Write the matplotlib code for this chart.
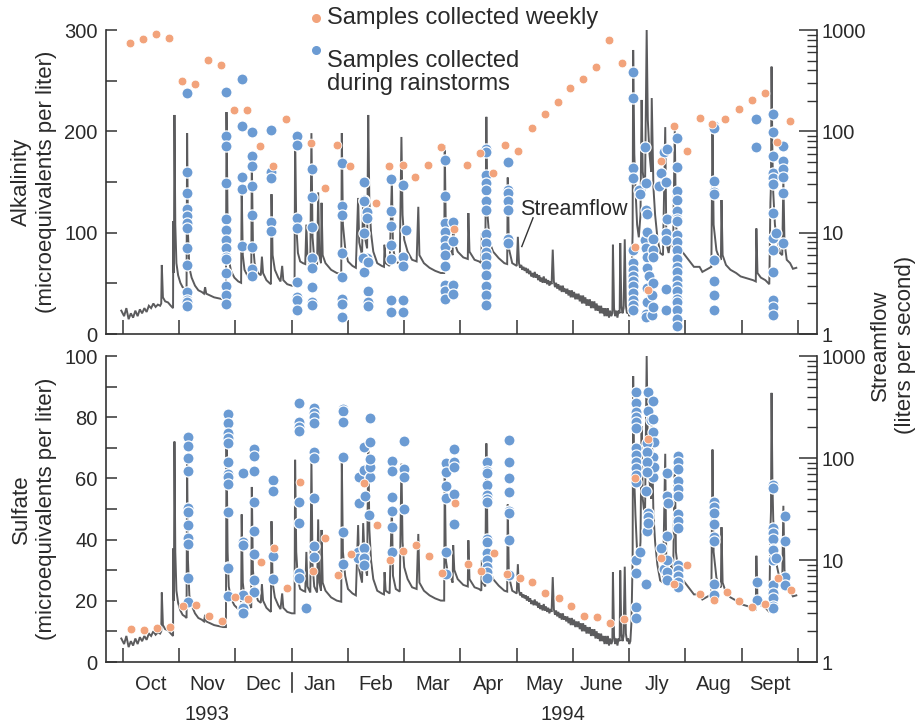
import matplotlib
matplotlib.use("Agg")
import matplotlib.pyplot as plt
from matplotlib import font_manager
from matplotlib.ticker import LogLocator, FuncFormatter, FixedLocator, NullFormatter
import matplotlib.transforms as mtrans

# ---------------- data ----------------
# x positions are in months since 1 Oct 1993 (0 = Oct 1, 12 = Oct 1 1994)
month_labels = ["Oct", "Nov", "Dec", "Jan", "Feb", "Mar", "Apr", "May", "June", "Jly", "Aug", "Sept"]
year_labels = ["1993", "1994"]
year_label_pos = [1.49, 7.83]

flow_month = [-0.03, 0.02, 0.06, 0.10, 0.14, 0.18, 0.22, 0.26, 0.30, 0.34, 0.38, 0.42, 0.46, 0.50, 0.54,
              0.58, 0.62, 0.66, 0.68, 0.69, 0.71, 0.75, 0.80, 0.85, 0.89, 0.895, 0.905, 0.915, 0.93, 0.95,
              0.98, 1.02, 1.06, 1.10, 1.13, 1.14, 1.155, 1.18, 1.22, 1.28, 1.34, 1.40, 1.44, 1.46, 1.48,
              1.55, 1.62, 1.70, 1.78, 1.83, 1.84, 1.86, 1.88, 1.92, 1.98, 2.05, 2.10, 2.11, 2.13, 2.16,
              2.22, 2.28, 2.29, 2.31, 2.34, 2.40, 2.45, 2.47, 2.49, 2.55, 2.60, 2.63, 2.64, 2.66, 2.70,
              2.76, 2.80, 2.83, 2.85, 2.92, 3.00, 3.05, 3.06, 3.08, 3.11, 3.15, 3.20, 3.24, 3.26, 3.28,
              3.33, 3.35, 3.37, 3.40, 3.45, 3.47, 3.49, 3.52, 3.53, 3.55, 3.60, 3.70, 3.80, 3.88, 3.89,
              3.91, 3.95, 4.00, 4.08, 4.14, 4.18, 4.20, 4.25, 4.27, 4.30, 4.34, 4.36, 4.38, 4.41, 4.45,
              4.52, 4.60, 4.64, 4.65, 4.67, 4.74, 4.78, 4.80, 4.85, 4.92, 4.95, 4.97, 5.00, 5.06, 5.14,
              5.22, 5.25, 5.27, 5.35, 5.45, 5.55, 5.65, 5.71, 5.72, 5.74, 5.78, 5.84, 5.86, 5.87, 5.89,
              5.95, 6.05, 6.13, 6.14, 6.16, 6.25, 6.33, 6.37, 6.38, 6.40, 6.44, 6.46, 6.48, 6.52, 6.58,
              6.68, 6.78, 6.83, 6.84, 6.86, 6.92, 7.00, 7.02,
              7.04, 7.06, 7.08, 7.10, 7.12, 7.14, 7.16, 7.18, 7.20, 7.22, 7.24, 7.26, 7.28, 7.30, 7.32,
              7.34, 7.36, 7.38, 7.40, 7.42, 7.44, 7.46, 7.48, 7.50, 7.52, 7.54, 7.56, 7.58, 7.60, 7.62,
              7.64, 7.66, 7.68, 7.70, 7.72, 7.74, 7.76, 7.78, 7.80, 7.82, 7.84, 7.86, 7.88, 7.90, 7.92,
              7.94, 7.96, 7.98, 8.00, 8.02, 8.04, 8.06, 8.08, 8.10, 8.12, 8.14, 8.16, 8.18, 8.20, 8.22,
              8.24, 8.26, 8.28, 8.30, 8.32, 8.34, 8.36, 8.38, 8.40, 8.42, 8.44, 8.46, 8.48, 8.50, 8.52,
              8.54, 8.56, 8.58, 8.60, 8.62, 8.64, 8.66, 8.68, 8.70, 8.71, 8.73, 8.75, 8.77, 8.79, 8.81,
              8.83, 8.84, 8.86, 8.88, 8.90, 8.92, 8.94, 8.96, 8.98, 9.00, 9.02, 9.04,
              9.06, 9.07, 9.09, 9.11, 9.14, 9.17, 9.20, 9.22, 9.24, 9.28, 9.31,
              9.33, 9.36, 9.39, 9.40, 9.43, 9.46, 9.50, 9.55, 9.60, 9.64, 9.66, 9.70, 9.75, 9.78, 9.81,
              9.83, 9.88, 9.96, 10.05, 10.15, 10.25, 10.30, 10.40, 10.46, 10.48, 10.50, 10.55, 10.60, 10.63, 10.64,
              10.66, 10.72, 10.80, 10.90, 10.98, 11.05, 11.12, 11.20, 11.25, 11.26, 11.28, 11.34, 11.42, 11.49, 11.51,
              11.52, 11.53, 11.545, 11.56, 11.59, 11.62, 11.68, 11.72, 11.74, 11.76, 11.80, 11.86, 11.91, 11.97]
flow_q = [1.7, 1.5, 1.8, 1.4, 1.6, 1.45, 1.7, 1.5, 1.75, 1.6, 1.8, 1.65, 1.9, 1.8, 2.0,
          1.85, 1.95, 1.9, 2.0, 4.8, 2.3, 2.1, 2.05, 1.9, 1.8, 13, 4.0, 145, 12, 5.0,
          3.8, 3.2, 2.9, 2.8, 2.7, 96, 10, 4.5, 3.6, 3.0, 2.7, 2.6, 2.5, 2.9, 2.5,
          2.4, 2.3, 2.25, 2.2, 2.2, 155, 12, 5.5, 4.2, 3.6, 3.3, 3.2, 28, 6.0, 4.3,
          3.7, 3.4, 52, 8.0, 5.0, 4.0, 3.8, 5.8, 4.0, 3.4, 3.2, 3.1, 24, 6.0, 4.3,
          3.6, 3.3, 4.7, 3.4, 3.1, 3.0, 3.0, 96, 12, 6.3, 5.2, 5.0, 4.9, 12, 5.5,
          4.8, 96, 9.0, 5.5, 4.8, 25, 6.0, 5.0, 19.7, 6.0, 5.0, 4.3, 4.0, 3.9, 96,
          12, 7.0, 5.2, 4.7, 4.5, 22, 8.0, 6.0, 23, 9.0, 7.0, 145, 20, 9.9, 6.5,
          5.0, 4.7, 4.6, 7.6, 5.0, 4.7, 33, 7.0, 5.2, 4.9, 88, 15, 8.5, 6.5, 5.4,
          5.2, 18, 6.0, 5.0, 4.5, 4.2, 4.0, 4.0, 73, 10, 7.0, 6.5, 6.0, 14, 8.0,
          6.5, 5.7, 5.5, 15.6, 6.5, 5.4, 5.2, 5.0, 9.9, 6.0, 5.5, 139, 15, 8.0, 6.5,
          5.6, 5.0, 4.9, 35, 7.0, 5.0, 4.7, 9.1,
          5.0, 4.5, 4.8, 4.3, 4.6, 4.2, 4.5, 4.0, 4.4, 3.9, 4.2, 3.7, 4.0, 3.6, 4.1,
          3.6, 3.9, 3.4, 3.8, 3.3, 3.6, 3.2, 3.7, 3.2, 3.5, 3.1, 3.4, 3.0, 3.3, 3.1,
          6.8, 3.3, 2.9, 3.2, 2.8, 3.1, 2.7, 3.0, 2.6, 3.0, 2.6, 2.8, 2.5, 2.8, 2.4,
          2.7, 2.3, 2.7, 2.3, 2.6, 2.2, 2.5, 2.2, 2.5, 2.1, 2.4, 2.0, 2.4, 2.0, 2.3,
          1.9, 2.2, 1.9, 2.2, 1.8, 2.1, 1.8, 2.1, 1.7, 2.0, 1.7, 1.9, 1.6, 1.9, 1.6,
          1.8, 1.5, 1.8, 1.5, 1.8, 1.45, 1.7, 1.5, 1.6, 7.6, 1.8, 1.5, 1.7, 1.45, 1.7,
          1.6, 7.9, 1.9, 1.6, 1.8, 8.6, 1.9, 1.6, 1.7, 1.5, 1.6, 2.5,
          10, 635, 60, 28, 12, 9.0, 15, 204, 40, 25, 1000,
          130, 60, 40, 213, 28, 15, 9.0, 6.3, 6.0, 110, 8.0, 6.3, 9.9, 7.0, 103,
          12, 7.2, 6.3, 5.4, 4.6, 4.6, 4.1, 4.4, 4.6, 121, 12, 6.7, 5.6, 5.4, 21,
          6.0, 4.8, 4.3, 4.0, 3.7, 3.6, 3.5, 3.4, 3.3, 11, 4.0, 3.6, 3.4, 3.1, 20,
          30, 435, 60, 25, 12, 9.0, 6.3, 6.0, 34, 8.0, 5.4, 5.0, 4.4, 4.5]

alk_weekly_month = [0.12, 0.36, 0.59, 0.82, 1.05, 1.28, 1.51, 1.74, 1.97, 2.20, 2.44, 2.66, 2.89, 3.35,
                    3.59, 3.81, 4.04, 4.50, 4.73, 4.97, 5.19, 5.43, 5.65, 5.88, 6.11, 6.35, 6.57, 6.80,
                    7.03, 7.27, 7.50, 7.73, 7.95, 8.18, 8.41, 8.64, 8.87, 9.10, 9.33, 9.56, 9.80, 10.02,
                    10.25, 10.48, 10.71, 10.95, 11.18, 11.41, 11.63, 11.86]
alk_weekly = [287, 291, 296, 292, 250, 247, 270, 265, 221, 221, 186, 166, 212, 188,
              144, 187, 166, 129, 166, 167, 155, 167, 185, 104, 167, 179, 159, 187,
              181, 203, 217, 229, 243, 252, 263, 290, 267, 86, 43, 171, 205, 181,
              213, 207, 212, 222, 231, 238, 189, 210]

so4_weekly_month = [0.14, 0.37, 0.61, 0.84, 1.07, 1.30, 1.53, 1.76, 1.99, 2.22, 2.45, 2.68, 2.91, 3.14,
                    3.37, 3.60, 3.83, 4.06, 4.29, 4.52, 4.75, 4.97, 5.21, 5.44, 5.67, 5.90, 6.13, 6.36,
                    6.59, 6.82, 7.05, 7.28, 7.51, 7.75, 7.97, 8.20, 8.43, 8.66, 8.90, 9.11, 9.34, 9.57,
                    9.80, 10.03, 10.26, 10.50, 10.73, 10.96, 11.19, 11.42, 11.65, 11.88]
so4_weekly = [10.7, 10.5, 11.2, 11.5, 18.4, 18.6, 14.9, 13.4, 21.3, 20.6, 32.8, 37.4, 24.1, 58.8,
              29.8, 40.6, 28.5, 35.3, 58.6, 44.9, 33.4, 36.4, 38.2, 34.6, 29.1, 52.0, 31.9, 29.7,
              35.7, 28.9, 27.5, 26.0, 22.4, 20.9, 18.3, 15.1, 14.6, 12.7, 13.9, 60.2, 72.9, 34.0,
              25.5, 31.6, 22.3, 20.3, 22.8, 20.0, 17.9, 19.1, 27.3, 23.6]

# storm samples: (month position, [values collected during that storm])
alk_storms = [
    (1.14, [238, 160, 139, 123, 116, 110, 105, 85, 68, 41, 34, 32, 28]),
    (1.84, [239, 195, 186, 149, 113, 103, 93, 85, 76, 74, 60, 47, 38, 30]),
    (2.11, [252, 205, 155, 143, 87]),
    (2.30, [199, 176, 166, 146, 117, 86, 64, 57]),
    (2.63, [201, 160, 154, 111, 102]),
    (3.09, [195, 187, 114, 105, 51, 37, 34, 24]),
    (3.36, [163, 135, 106, 75, 65, 46, 32, 29]),
    (3.90, [169, 126, 117, 80, 56, 35, 30, 17]),
    (4.29, [150, 132, 131, 100, 61]),
    (4.34, [120, 114, 75]),
    (4.27, [75]),
    (4.36, [71, 42, 32, 28]),
    (4.77, [153, 121, 107, 88, 74, 34, 22]),
    (4.97, [147, 76, 67, 34, 22]),
    (5.04, [103]),
    (5.72, [172, 136, 110, 101, 93, 86, 78, 67, 48, 42, 35]),
    (5.87, [111, 92, 48, 39]),
    (6.45, [183, 180, 157, 149, 142, 131, 122, 99, 90, 81, 76, 68, 58, 47, 38, 29]),
    (6.85, [170, 142, 139, 131, 122, 94, 90]),
    (9.07, [259, 233, 164, 154, 83, 70, 63, 57, 52, 47, 40, 34, 29, 24]),
    (9.18, [142]), (9.19, [138]), (9.28, [185, 93]), (9.29, [149]),
    (9.30, [122, 85, 20, 17]), (9.31, [118, 101, 76, 45, 32]), (9.32, [65]),
    (9.36, [57]), (9.40, [38, 19]), (9.42, [94, 50, 27]), (9.43, [83, 76]),
    (9.61, [180]), (9.68, [183, 113]), (9.56, [159]), (9.53, [146]),
    (9.66, [150, 100, 93, 44, 24]),
    (9.85, [193, 165, 141, 132, 121, 113, 112, 98, 91, 83, 74, 66, 61, 53, 47, 42, 35, 32, 24, 15, 8]),
    (10.50, [205, 203, 151, 140, 138, 73, 52, 38, 24]),
    (11.26, [212, 185]),
    (11.55, [217, 199, 176, 159, 154, 148, 119, 95, 83, 61, 34, 27, 19]),
    (11.61, [100]),
    (11.74, [186, 171, 163, 155, 139, 90]),
]

so4_storms = [
    (1.16, [73.4, 70.6, 66.6, 62.4, 50.2, 49.1, 44.8, 40.4, 38.6, 27.5, 19.7]),
    (1.87, [81.0, 78.0, 74.7, 73.1, 71.7, 65.3, 61.4, 60.4, 58.1, 49.1, 31.1, 30.6, 21.6]),
    (2.14, [61.9, 39.3, 38.2, 21.9, 18.1, 17.5, 16.1]),
    (2.33, [69.5, 67.2, 62.4, 52.2, 42.8, 35.4, 26.8, 23.0]),
    (2.66, [59.5, 56.0, 34.6, 27.2]),
    (3.13, [84.5, 78.5, 76.7, 75.5, 52.2, 45.5, 29.0, 27.3]),
    (3.25, [17.7]),
    (3.40, [83.1, 81.5, 80.0, 78.2, 68.7, 66.8, 53.7, 37.9, 34.4]),
    (3.92, [82.7, 82.1, 78.3, 67.0, 42.5, 32.0]),
    (4.20, [60.4, 51.9]), (4.18, [35.9, 33.9]),
    (4.29, [70.2, 62.7, 37.1, 33.9, 31.7]), (4.30, [54.3]), (4.38, [48.0]),
    (4.39, [60.6, 63.8, 72.0]), (4.40, [66.2, 79.6]),
    (4.79, [65.8, 62.4, 54.0, 49.4, 44.2, 36.0]),
    (5.00, [72.2, 63.1, 60.4, 49.9]),
    (5.75, [64.9, 62.0, 57.6, 53.5, 35.8, 28.7]),
    (5.89, [69.5, 65.5, 63.8, 54.8, 45.0]),
    (6.48, [65.5, 62.5, 61.7, 57.9, 54.6, 53.2, 52.2, 40.1, 39.3, 35.5, 33.3, 31.1, 29.3, 27.3]),
    (6.87, [72.5, 65.3, 60.0, 55.5, 49.5, 48.8, 39.9, 28.4]),
    (9.12, [88.1, 84.7, 81.8, 80.2, 78.5, 76.4, 69.8, 67.6, 65.5, 63.3, 61.1, 58.9, 33.3, 29.2, 17.9, 14.3]),
    (9.19, [35.8]),
    (9.34, [88.1, 82.1]), (9.42, [85.4, 75.3]), (9.38, [79.1]), (9.43, [79.4, 67.1, 60.6]),
    (9.44, [72.0, 63.6]), (9.31, [71.5, 42.9]), (9.32, [68.7, 65.5, 62.2]), (9.30, [56.0, 25.4]),
    (9.33, [48.8, 47.5, 45.3]),
    (9.56, [37.2]), (9.61, [30.3]), (9.68, [33.3, 29.5, 26.8, 61.7, 54.2, 41.2]), (9.69, [51.9]),
    (9.86, [67.3, 65.3, 63.0, 59.3, 56.4, 54.3, 48.3, 46.2, 43.7, 31.7, 30.1, 28.1, 26.2, 24.6]),
    (10.51, [52.4, 50.6, 48.6, 45.1, 41.0, 39.6, 25.4, 21.9]),
    (11.28, [26.1, 20.3]),
    (11.56, [57.8, 57.0, 43.7, 42.0, 40.1, 36.8, 36.6, 33.3, 25.2, 22.4, 20.8, 18.4, 17.5]),
    (11.61, [34.1]),
    (11.77, [47.8, 39.5, 27.9, 25.2]),
]

# ---------------- style ----------------
names = {f.name for f in font_manager.fontManager.ttflist}
BASE = "Liberation Sans" if "Liberation Sans" in names else "DejaVu Sans"
NARROW = "Liberation Sans Narrow" if "Liberation Sans Narrow" in names else BASE
plt.rcParams["font.family"] = [BASE, "DejaVu Sans"]

ORANGE = "#f2a37b"
BLUE = "#6b9bd3"
LINE = "#5b5b5d"
AX = "#333333"
TXT = "#2a2a2a"

fig = plt.figure(figsize=(9.17, 7.26), dpi=100)
W_PX, H_PX = 917, 726
left, right = 106 / W_PX, 817 / W_PX
top_ax = fig.add_axes([left, 1 - 334 / H_PX, right - left, (334 - 30) / H_PX])
bot_ax = fig.add_axes([left, 1 - 662 / H_PX, right - left, (662 - 356) / H_PX])

XMIN, XMAX = -0.302, 12.338


def flatten(storms):
    xs, ys = [], []
    for m, vals in storms:
        for v in vals:
            xs.append(m)
            ys.append(v)
    return xs, ys


def setup(ax, ymax, major, minor, show_months):
    tw = ax.twinx()
    tw.set_yscale("log")
    tw.set_ylim(1, 1000)
    tw.plot(flow_month, flow_q, color=LINE, lw=1.4, solid_joinstyle="miter")
    ax.set_zorder(tw.get_zorder() + 1)
    ax.patch.set_visible(False)
    ax.set_xlim(XMIN, XMAX)
    ax.set_ylim(0, ymax)
    for a in (ax, tw):
        a.spines["top"].set_visible(False)
        for s in a.spines.values():
            s.set_color(AX)
            s.set_linewidth(1.2)
    ax.spines["right"].set_visible(False)
    tw.spines["left"].set_visible(False)
    tw.spines["bottom"].set_visible(False)
    ax.set_yticks(major)
    ax.yaxis.set_minor_locator(FixedLocator(minor))
    ax.tick_params(axis="y", which="both", direction="in", length=8, width=1.1,
                   colors=AX, labelsize=14.5, pad=6, labelcolor=TXT)
    ax.set_xticks(range(13))
    ax.tick_params(axis="x", which="major", direction="in", length=10, width=1.1,
                   colors=AX, labelbottom=False)
    if show_months:
        ax.set_xticks([i + 0.5 for i in range(12)], minor=True)
        ax.set_xticklabels(month_labels, minor=True)
        ax.tick_params(axis="x", which="minor", length=0, pad=9, labelsize=14.5,
                       labelcolor=TXT)
        for t in ax.get_xticklabels(minor=True):
            t.set_fontfamily([NARROW, "DejaVu Sans"])
    tw.yaxis.set_major_locator(LogLocator(base=10, numticks=10))
    tw.yaxis.set_minor_locator(LogLocator(base=10, subs=[2, 3, 4, 5, 6, 7, 8, 9], numticks=10))
    tw.yaxis.set_major_formatter(FuncFormatter(lambda v, p: f"{v:g}"))
    tw.yaxis.set_minor_formatter(NullFormatter())
    tw.tick_params(axis="y", which="major", direction="in", length=13, width=1.1,
                   colors=AX, labelsize=14.5, pad=3, labelcolor=TXT)
    tw.tick_params(axis="y", which="minor", direction="in", length=7, width=1.0, colors=AX)
    return tw


tw_top = setup(top_ax, 300, [0, 100, 200, 300], [50, 150, 250], False)
tw_bot = setup(bot_ax, 100, [0, 20, 40, 60, 80, 100], [10, 30, 50, 70, 90], True)

# samples
ax_list = [(top_ax, alk_storms, alk_weekly_month, alk_weekly),
           (bot_ax, so4_storms, so4_weekly_month, so4_weekly)]
for ax, storms, wm, wv in ax_list:
    sx, sy = flatten(storms)
    ax.scatter(sx, sy, s=64, color=BLUE, edgecolors="white", linewidths=0.9, zorder=3, clip_on=False)
    ax.scatter(wm, wv, s=40, color=ORANGE, edgecolors="white", linewidths=0.6, zorder=4, clip_on=False)

# streamflow annotation
tw_top.text(7.06, 16.8, "Streamflow", ha="left", va="center", fontsize=15.5, color=TXT)
tw_top.plot([7.29, 7.09], [14.0, 7.3], color="#333333", lw=1.0)

# year labels and separator
trans = mtrans.blended_transform_factory(bot_ax.transData, bot_ax.transAxes)
for lab, pos in zip(year_labels, year_label_pos):
    bot_ax.text(pos, -0.173, lab, transform=trans, ha="center", va="center",
                fontsize=14.5, family=[NARROW, "DejaVu Sans"], color=TXT)
bot_ax.plot([3, 3], [-0.036, -0.098], transform=trans, color=AX, lw=1.2, clip_on=False)

# axis titles
fig.text(34 / W_PX, 1 - 182 / H_PX, "Alkalinity\n(microequivalents per liter)", rotation=90,
         ha="center", va="center", fontsize=16, color=TXT, linespacing=1.3)
fig.text(34 / W_PX, 1 - 509 / H_PX, "Sulfate\n(microequivalents per liter)", rotation=90,
         ha="center", va="center", fontsize=16, color=TXT, linespacing=1.3)
fig.text(893 / W_PX, 1 - 345 / H_PX, "Streamflow\n(liters per second)", rotation=90,
         ha="center", va="center", fontsize=16, color=TXT, linespacing=1.3)

# legend
leg_ax = fig.add_axes([0, 0, 1, 1], facecolor="none")
leg_ax.set_axis_off()
leg_ax.set_xlim(0, W_PX)
leg_ax.set_ylim(H_PX, 0)
leg_ax.scatter([316], [18], s=30, color=ORANGE)
leg_ax.scatter([316], [50], s=30, color=BLUE)
leg_ax.text(327, 18, "Samples collected weekly", ha="left", va="center", fontsize=17, color=TXT)
leg_ax.text(327, 50, "Samples collected\nduring rainstorms", ha="left", va="top", fontsize=17,
            color=TXT, linespacing=1.05)

fig.savefig("out.png", dpi=100)
